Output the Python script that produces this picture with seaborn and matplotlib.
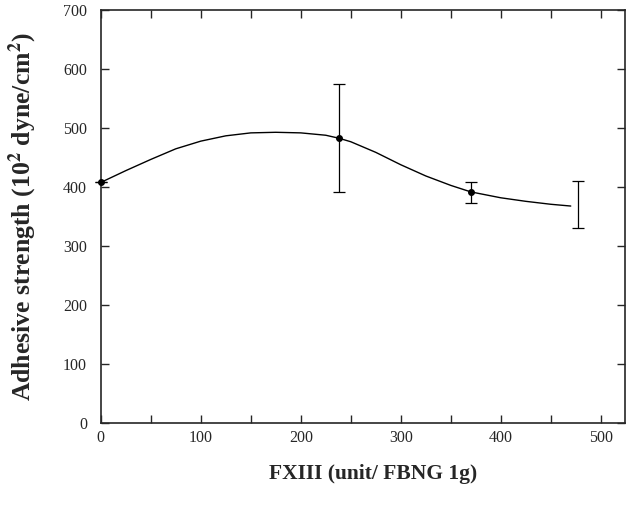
import numpy as np
import pandas as pd
import matplotlib
matplotlib.use('Agg')
import matplotlib.pyplot as plt
import seaborn as sns

# fitted curve
curve_x = [0, 25, 50, 75, 100, 125, 150, 175, 200, 225, 238, 250, 275, 300, 325, 350, 370, 400, 425, 450, 470]
curve_y = [408, 428, 447, 465, 478, 487, 492, 493, 492, 488, 483, 477, 459, 438, 419, 403, 392, 382, 376, 371, 368]

# measured points with error bars
pt_x = [0, 238, 370]
pt_y = [408, 483, 391]
pt_lo = [408, 391, 373]
pt_hi = [408, 575, 408]

# last point (marker lost in the scan)
last_x = [477]
last_y = [368]
last_lo = [330]
last_hi = [410]

sns.set_style('ticks')
plt.rcParams['font.family'] = ['Liberation Serif', 'DejaVu Serif']
plt.rcParams['mathtext.fontset'] = 'stix'

fig = plt.figure(figsize=(6.26, 5.08), dpi=100)
ax = fig.add_axes([0.161, 0.167, 0.837, 0.813])

df_curve = pd.DataFrame({'x': curve_x, 'y': curve_y})
sns.lineplot(data=df_curve, x='x', y='y', ax=ax, color='black', linewidth=1.0)

yerr = [np.array(pt_y) - np.array(pt_lo), np.array(pt_hi) - np.array(pt_y)]
ax.errorbar(pt_x, pt_y, yerr=yerr, fmt='o', color='black', markersize=4,
            elinewidth=0.9, capsize=4, capthick=0.9, clip_on=False, zorder=5)
yerr2 = [np.array(last_y) - np.array(last_lo), np.array(last_hi) - np.array(last_y)]
ax.errorbar(last_x, last_y, yerr=yerr2, fmt='none', ecolor='black',
            elinewidth=0.9, capsize=4, capthick=0.9)

ax.set_xlim(0, 524)
ax.set_ylim(0, 700)
ax.set_xticks([0, 100, 200, 300, 400, 500])
ax.set_xticks(np.arange(50, 500, 100), minor=True)
ax.set_yticks(np.arange(0, 701, 100))
ax.tick_params(which='both', direction='in', top=True, right=True, length=6,
               width=1.0, labelsize=11.5)
ax.tick_params(axis='y', pad=10)
ax.tick_params(axis='x', pad=5)
for s in ax.spines.values():
    s.set_linewidth(1.2)
    s.set_visible(True)

ax.set_xlabel('FXIII (unit/ FBNG 1g)', fontsize=15.5, fontweight='bold', labelpad=10)
ax.xaxis.set_label_coords(0.52, -0.098)
ax.set_ylabel('Adhesive strength (10$^\\mathbf{2}$ dyne/cm$^\\mathbf{2}$)', fontsize=18.5,
              fontweight='bold')
ax.yaxis.set_label_coords(-0.118, 0.5)

fig.savefig('out.png', dpi=100)
